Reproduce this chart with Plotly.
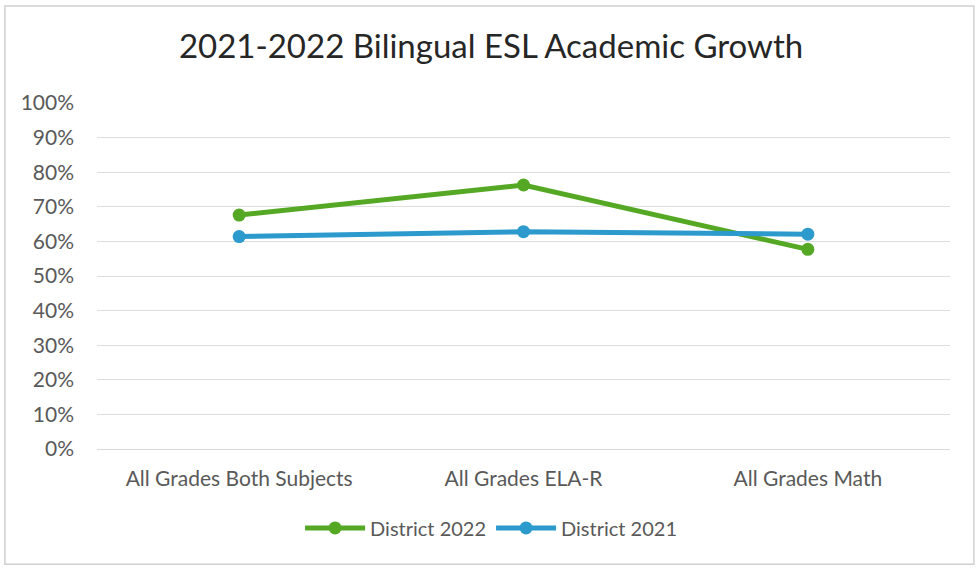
import plotly.graph_objects as go

# Categories and growth rates per district year
categories = ["All Grades Both Subjects", "All Grades ELA-R", "All Grades Math"]
district_2022 = [0.676, 0.763, 0.577]
district_2021 = [0.614, 0.628, 0.621]

y_ticks = [i / 10 for i in range(11)]
y_tick_labels = [f"{i * 10}%" for i in range(11)]

GREEN = "#55A824"
BLUE = "#2C9ACD"
TEXT = "#595959"
FONT = "Lato, 'Open Sans', sans-serif"

fig = go.Figure()
fig.add_trace(go.Scatter(
    x=categories, y=district_2022, name="District 2022",
    mode="lines+markers",
    line=dict(color=GREEN, width=5),
    marker=dict(color=GREEN, size=13),
))
fig.add_trace(go.Scatter(
    x=categories, y=district_2021, name="District 2021",
    mode="lines+markers",
    line=dict(color=BLUE, width=5),
    marker=dict(color=BLUE, size=13),
))

fig.update_layout(
    width=977, height=568,
    margin=dict(l=97, r=27, t=103, b=119),
    paper_bgcolor="white", plot_bgcolor="white",
    font=dict(family=FONT, color=TEXT, size=16),
    title=dict(
        text="2021-2022 Bilingual ESL Academic Growth",
        x=0.462, xanchor="center", xref="paper",
        y=0.918, yanchor="middle",
        font=dict(size=33, color="#262626", family=FONT),
    ),
    xaxis=dict(
        type="category", range=[-0.5, 2.5],
        showgrid=False, showline=True, linecolor="#D9D9D9", linewidth=1,
        ticks="", ticklabelstandoff=11,
        tickfont=dict(size=21, color=TEXT),
    ),
    yaxis=dict(
        range=[0, 1], tickvals=y_ticks, ticktext=y_tick_labels,
        showgrid=True, gridcolor="#DEDEDE", gridwidth=1,
        zeroline=False, showline=False, ticks="",
        ticklabelstandoff=22,
        tickfont=dict(size=21, color=TEXT),
    ),
    legend=dict(
        orientation="h", x=0.462, xanchor="center",
        y=-0.228, yanchor="middle",
        font=dict(size=20, color=TEXT),
        itemwidth=60, bgcolor="rgba(0,0,0,0)",
    ),
    showlegend=True,
    shapes=[dict(
        type="rect", xref="paper", yref="paper",
        x0=-0.108, x1=1.028, y0=-0.333, y1=1.28,
        line=dict(color="#D0D0D0", width=1.5), layer="below",
    )],
)

fig.write_html("out.html")
